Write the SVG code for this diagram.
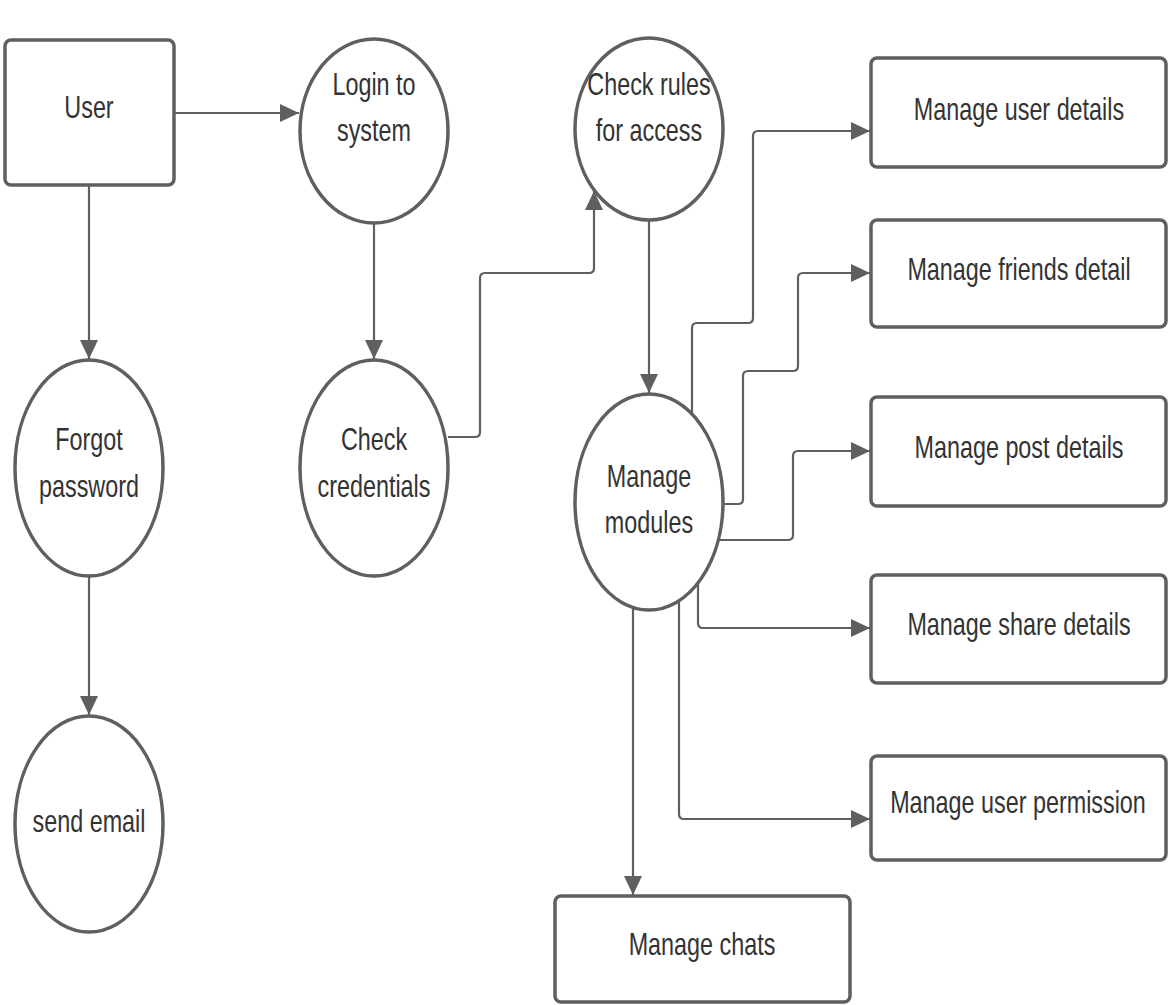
<svg xmlns="http://www.w3.org/2000/svg" width="1168" height="1005" viewBox="0 0 1168 1005">
<style>
.shape{fill:#fff;stroke:#5f5f5f;stroke-width:3.5}
.conn{fill:none;stroke:#5f5f5f;stroke-width:2.2}
.lbl{font-family:"Liberation Sans",Arial,sans-serif;font-size:32px;fill:#333;text-anchor:middle}
</style>
<defs>
<marker id="ah" markerUnits="userSpaceOnUse" markerWidth="20" markerHeight="18" refX="19" refY="9" orient="auto">
<path d="M0,0 L19,9 L0,18 z" fill="#5f5f5f"/>
</marker>
</defs>
<rect width="1168" height="1005" fill="#fff"/>
<g id="connectors">
<path class="conn" marker-end="url(#ah)" d="M174,113 H299"/>
<path class="conn" marker-end="url(#ah)" d="M89,185 V359"/>
<path class="conn" marker-end="url(#ah)" d="M374,223 V359"/>
<path class="conn" marker-end="url(#ah)" d="M89,577 V715"/>
<path class="conn" marker-end="url(#ah)" d="M448,437 H475 Q480,437 480,432 V278 Q480,273 485,273 H589 Q594,273 594,268 V191"/>
<path class="conn" marker-end="url(#ah)" d="M649,220 V393"/>
<path class="conn" marker-end="url(#ah)" d="M692,414 V328 Q692,323 697,323 H748 Q753,323 753,318 V136 Q753,131 758,131 H870"/>
<path class="conn" marker-end="url(#ah)" d="M723,504 H738 Q743,504 743,499 V376 Q743,371 748,371 H793 Q798,371 798,366 V278 Q798,273 803,273 H870"/>
<path class="conn" marker-end="url(#ah)" d="M718,540 H788 Q793,540 793,535 V456 Q793,451 798,451 H870"/>
<path class="conn" marker-end="url(#ah)" d="M698,583 V623 Q698,628 703,628 H870"/>
<path class="conn" marker-end="url(#ah)" d="M679,601 V814 Q679,819 684,819 H870"/>
<path class="conn" marker-end="url(#ah)" d="M633,607 V895"/>
</g>
<g id="user">
<rect class="shape" x="5" y="40" width="169" height="145" rx="6"/>
<text class="lbl" transform="translate(89,118) scale(0.73,1)" x="0" y="0">User</text>
</g>
<g id="login">
<ellipse class="shape" cx="374" cy="131" rx="74" ry="92"/>
<text class="lbl" transform="translate(374,95) scale(0.73,1)">Login to</text>
<text class="lbl" transform="translate(374,141) scale(0.73,1)">system</text>
</g>
<g id="checkrules">
<ellipse class="shape" cx="649" cy="129" rx="74" ry="91"/>
<text class="lbl" transform="translate(649,95) scale(0.73,1)">Check rules</text>
<text class="lbl" transform="translate(649,141) scale(0.73,1)">for access</text>
</g>
<g id="forgot">
<ellipse class="shape" cx="89" cy="468" rx="74" ry="108"/>
<text class="lbl" transform="translate(89,450) scale(0.73,1)">Forgot</text>
<text class="lbl" transform="translate(89,497) scale(0.73,1)">password</text>
</g>
<g id="checkcred">
<ellipse class="shape" cx="374" cy="468" rx="74" ry="108"/>
<text class="lbl" transform="translate(374,450) scale(0.73,1)">Check</text>
<text class="lbl" transform="translate(374,497) scale(0.73,1)">credentials</text>
</g>
<g id="modules">
<ellipse class="shape" cx="649" cy="502" rx="74" ry="108"/>
<text class="lbl" transform="translate(649,487) scale(0.73,1)">Manage</text>
<text class="lbl" transform="translate(649,533) scale(0.73,1)">modules</text>
</g>
<g id="sendemail">
<ellipse class="shape" cx="89" cy="824" rx="74" ry="108"/>
<text class="lbl" transform="translate(89,832) scale(0.73,1)">send email</text>
</g>
<g id="userdetails">
<rect class="shape" x="871" y="58" width="295" height="109" rx="6"/>
<text class="lbl" transform="translate(1019,120) scale(0.73,1)">Manage user details</text>
</g>
<g id="friends">
<rect class="shape" x="871" y="220" width="295" height="107" rx="6"/>
<text class="lbl" transform="translate(1019,280) scale(0.73,1)">Manage friends detail</text>
</g>
<g id="post">
<rect class="shape" x="871" y="397" width="295" height="109" rx="6"/>
<text class="lbl" transform="translate(1019,458) scale(0.73,1)">Manage post details</text>
</g>
<g id="share">
<rect class="shape" x="871" y="575" width="295" height="108" rx="6"/>
<text class="lbl" transform="translate(1019,635) scale(0.73,1)">Manage share details</text>
</g>
<g id="permission">
<rect class="shape" x="871" y="756" width="295" height="104" rx="6"/>
<text class="lbl" transform="translate(1018,813) scale(0.73,1)">Manage user permission</text>
</g>
<g id="chats">
<rect class="shape" x="555" y="896" width="295" height="106" rx="6"/>
<text class="lbl" transform="translate(702,955) scale(0.73,1)">Manage chats</text>
</g>
</svg>
